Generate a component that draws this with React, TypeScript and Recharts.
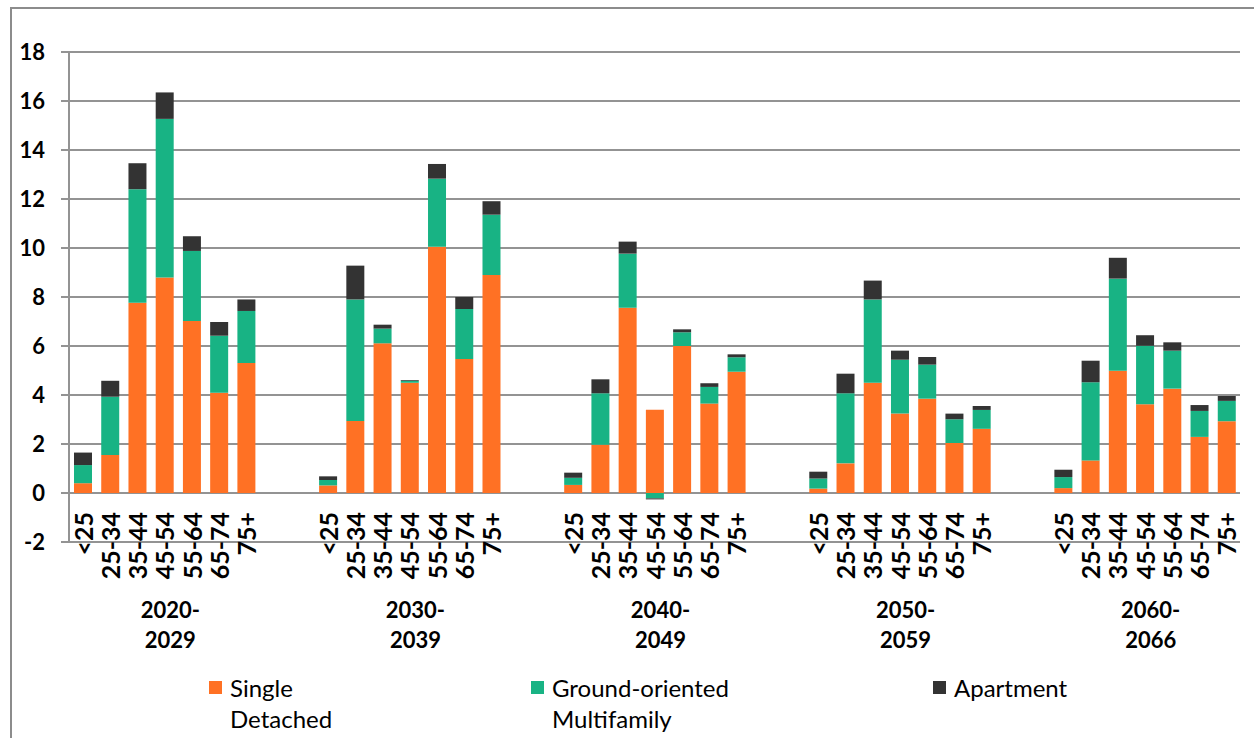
import { Bar, BarChart, CartesianGrid, XAxis, YAxis } from "recharts";

const ageGroups = ["<25", "25-34", "35-44", "45-54", "55-64", "65-74", "75+"];
const periods = ["2020-2029", "2030-2039", "2040-2049", "2050-2059", "2060-2066"];
const yTicks = [-2, 0, 2, 4, 6, 8, 10, 12, 14, 16, 18];

// values run period by period, ages <25 .. 75+ inside each period
const singleDetached = [
  0.4, 1.55, 7.77, 8.8, 7.02, 4.09, 5.31,
  0.31, 2.94, 6.11, 4.5, 10.05, 5.47, 8.9,
  0.33, 1.97, 7.56, 3.4, 6.0, 3.65, 4.95,
  0.18, 1.21, 4.5, 3.25, 3.85, 2.04, 2.62,
  0.2, 1.33, 4.99, 3.62, 4.26, 2.29, 2.93,
];
const groundOriented = [
  0.74, 2.38, 4.63, 6.47, 2.86, 2.33, 2.12,
  0.22, 4.96, 0.6, 0.08, 2.78, 2.04, 2.46,
  0.29, 2.1, 2.21, -0.22, 0.56, 0.68, 0.59,
  0.41, 2.86, 3.4, 2.19, 1.39, 0.97, 0.77,
  0.45, 3.19, 3.76, 2.39, 1.55, 1.06, 0.83,
];
const apartment = [
  0.51, 0.65, 1.06, 1.08, 0.6, 0.56, 0.47,
  0.15, 1.38, 0.16, 0.03, 0.6, 0.49, 0.55,
  0.21, 0.57, 0.49, -0.04, 0.12, 0.15, 0.12,
  0.28, 0.8, 0.77, 0.37, 0.31, 0.23, 0.16,
  0.3, 0.88, 0.85, 0.43, 0.34, 0.24, 0.2,
];

const series = [
  { key: "sd", name: "Single Detached", color: "#ff7124", values: singleDetached },
  { key: "go", name: "Ground-oriented Multifamily", color: "#18b384", values: groundOriented },
  { key: "apt", name: "Apartment", color: "#333333", values: apartment },
];

type Row = {
  key: string;
  age: string;
  period?: string;
  sd?: number;
  go?: number;
  apt?: number;
};

// two empty slots between periods, like the spreadsheet
const rows: Row[] = [];
periods.forEach((p, pi) => {
  ageGroups.forEach((a, ai) => {
    const i = pi * ageGroups.length + ai;
    rows.push({
      key: `${p}|${a}`,
      age: a,
      period: ai === 3 ? p : undefined,
      sd: singleDetached[i],
      go: groundOriented[i],
      apt: apartment[i],
    });
  });
  if (pi < periods.length - 1) {
    rows.push({ key: `gap-${pi}-a`, age: "" });
    rows.push({ key: `gap-${pi}-b`, age: "" });
  }
});
const byKey = new Map(rows.map((r) => [r.key, r]));

const FONT = "Lato, 'Open Sans', sans-serif";

function CategoryTick(props: any) {
  const { x, y, payload } = props;
  const row = byKey.get(payload.value);
  if (!row) return null;
  const [from, to] = row.period ? row.period.split("-") : ["", ""];
  return (
    <g>
      {row.age && (
        <text
          x={x}
          y={y - 30}
          transform={`rotate(-90 ${x} ${y - 30})`}
          textAnchor="end"
          dominantBaseline="central"
          fontFamily={FONT}
          fontWeight={700}
          fontSize={25}
          fill="#000"
        >
          {row.age}
        </text>
      )}
      {row.period && (
        <text
          x={x + 6}
          textAnchor="middle"
          fontFamily={FONT}
          fontWeight={700}
          fontSize={22}
          fill="#000"
        >
          <tspan x={x + 6} y={y + 76}>{from}-</tspan>
          <tspan x={x + 6} y={y + 106}>{to}</tspan>
        </text>
      )}
    </g>
  );
}

const legendPos = [
  { left: 209, width: 115 },
  { left: 531, width: 220 },
  { left: 933, width: 170 },
];

export default function App() {
  return (
    <div
      style={{
        position: "absolute",
        left: 0,
        top: 0,
        width: 1254,
        height: 738,
        background: "#fff",
        overflow: "hidden",
        fontFamily: FONT,
      }}
    >
      <div
        style={{
          position: "absolute",
          left: 10,
          top: 7,
          right: -4,
          bottom: -4,
          borderLeft: "2px solid #8c8c8c",
          borderTop: "2px solid #8c8c8c",
        }}
      />
      <div style={{ position: "absolute", left: 0, top: 0 }}>
        <BarChart
          width={1254}
          height={738}
          data={rows}
          stackOffset="sign"
          margin={{ top: 52, right: 14, bottom: 0, left: 9 }}
        >
          <CartesianGrid
            horizontal
            vertical={false}
            stroke="#939393"
            strokeWidth={2}
          />
          <XAxis
            dataKey="key"
            interval={0}
            height={196}
            axisLine={false}
            tickLine={false}
            tickSize={0}
            tickMargin={0}
            tick={<CategoryTick />}
          />
          <YAxis
            width={60}
            domain={[-2, 18]}
            ticks={yTicks}
            interval={0}
            axisLine={{ stroke: "#939393", strokeWidth: 2 }}
            tickLine={{ stroke: "#939393", strokeWidth: 2 }}
            tickSize={8}
            tickMargin={16}
            tick={{ fill: "#000", fontSize: 22, fontWeight: 700, fontFamily: FONT }}
          />
          {series.map((s) => (
            <Bar
              key={s.key}
              dataKey={s.key}
              name={s.name}
              stackId="a"
              fill={s.color}
              barSize={18}
              isAnimationActive={false}
            />
          ))}
        </BarChart>
      </div>
      {series.map((s, i) => (
        <div
          key={s.key}
          style={{
            position: "absolute",
            left: legendPos[i].left,
            top: 672,
            display: "flex",
            alignItems: "flex-start",
          }}
        >
          <span
            style={{
              display: "inline-block",
              width: 13,
              height: 13,
              marginTop: 9,
              background: s.color,
            }}
          />
          <span
            style={{
              display: "inline-block",
              width: legendPos[i].width,
              marginLeft: 8,
              fontSize: 24,
              lineHeight: "31px",
              color: "#000",
            }}
          >
            {s.name}
          </span>
        </div>
      ))}
    </div>
  );
}
